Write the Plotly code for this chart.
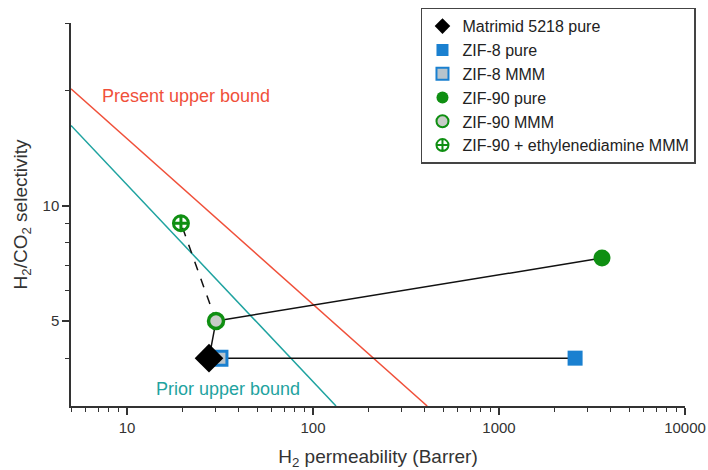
import math
import plotly.graph_objects as go

# ---- data ----
matrimid_x = [27.6];  matrimid_y = [4.0]
zif8_pure_x = [2565]; zif8_pure_y = [4.0]
zif8_mmm_x = [31.6];  zif8_mmm_y = [4.0]
zif90_pure_x = [3580]; zif90_pure_y = [7.3]
zif90_mmm_x = [30.1]; zif90_mmm_y = [5.0]
zif90_en_x = [19.5];  zif90_en_y = [9.0]

present_bound_x = [5, 411];  present_bound_y = [20.2, 3.0]
prior_bound_x = [5, 133];    prior_bound_y = [16.2, 3.0]

x_major = [10, 100, 1000, 10000]
x_minor = [m * d for d in (1, 10, 100, 1000) for m in range(2, 10) if 5 <= m * d < 10000]
y_major = [5, 10]
y_minor = [4, 6, 7, 8, 9, 20, 30]

FONT = "Liberation Sans, Arial, sans-serif"
RED = "#f0503a"
TEAL = "#1fa3a0"
BLUE = "#1a80d0"
GREEN = "#0f8f12"

fig = go.Figure()

# upper bounds
fig.add_trace(go.Scatter(x=present_bound_x, y=present_bound_y, mode="lines",
                         line=dict(color=RED, width=1.5), showlegend=False, hoverinfo="skip"))
fig.add_trace(go.Scatter(x=prior_bound_x, y=prior_bound_y, mode="lines",
                         line=dict(color=TEAL, width=1.5), showlegend=False, hoverinfo="skip"))

# connecting lines
def link(xa, ya, xb, yb, dash="solid"):
    fig.add_trace(go.Scatter(x=[xa[0], xb[0]], y=[ya[0], yb[0]], mode="lines",
                             line=dict(color="#111111", width=1.5, dash=dash),
                             showlegend=False, hoverinfo="skip"))

link(zif8_mmm_x, zif8_mmm_y, zif8_pure_x, zif8_pure_y)
link(zif90_mmm_x, zif90_mmm_y, zif90_pure_x, zif90_pure_y)
link(matrimid_x, matrimid_y, zif90_mmm_x, zif90_mmm_y)
link(zif90_mmm_x, zif90_mmm_y, zif90_en_x, zif90_en_y, dash="dash")

# markers (legend order)
fig.add_trace(go.Scatter(x=zif8_mmm_x, y=zif8_mmm_y, mode="markers", name="ZIF-8 MMM",
                         marker=dict(symbol="square", size=14, color="#b8c4cc",
                                     line=dict(color=BLUE, width=3)), legendrank=3))
fig.add_trace(go.Scatter(x=matrimid_x, y=matrimid_y, mode="markers", name="Matrimid 5218 pure",
                         marker=dict(symbol="diamond", size=22, color="black"), legendrank=1))
fig.add_trace(go.Scatter(x=zif8_pure_x, y=zif8_pure_y, mode="markers", name="ZIF-8 pure",
                         marker=dict(symbol="square", size=15, color=BLUE), legendrank=2))
fig.add_trace(go.Scatter(x=zif90_pure_x, y=zif90_pure_y, mode="markers", name="ZIF-90 pure",
                         marker=dict(symbol="circle", size=17, color=GREEN), legendrank=4))
fig.add_trace(go.Scatter(x=zif90_mmm_x, y=zif90_mmm_y, mode="markers", name="ZIF-90 MMM",
                         marker=dict(symbol="circle", size=15, color="#c8ccc8",
                                     line=dict(color=GREEN, width=3.5)), legendrank=5))
fig.add_trace(go.Scatter(x=zif90_en_x, y=zif90_en_y, mode="markers",
                         name="ZIF-90 + ethylenediamine MMM",
                         marker=dict(symbol="circle-cross-open", size=15, color=GREEN,
                                     line=dict(color=GREEN, width=3)), legendrank=6))

fig.add_annotation(x=math.log10(7.2), y=math.log10(19.3), text="Present upper bound",
                   showarrow=False, xanchor="left", yanchor="middle",
                   font=dict(family=FONT, size=18, color=RED))
fig.add_annotation(x=math.log10(14.0), y=math.log10(3.32), text="Prior upper bound",
                   showarrow=False, xanchor="left", yanchor="middle",
                   font=dict(family=FONT, size=18, color=TEAL))

axis_common = dict(showgrid=False, zeroline=False, showline=True, linecolor="#333333",
                   linewidth=1.5, ticks="outside", tickcolor="#333333", tickwidth=1.5,
                   ticklen=7, automargin=False,
                   tickfont=dict(family=FONT, size=15, color="#333333"))

fig.update_xaxes(type="log", range=[math.log10(5), 4], tickvals=x_major,
                 ticktext=[str(v) for v in x_major],
                 minor=dict(tickvals=x_minor, ticks="outside", ticklen=4,
                            tickcolor="#333333", tickwidth=1.2, showgrid=False),
                 title=dict(text="H<sub>2</sub> permeability (Barrer)",
                            font=dict(family=FONT, size=19, color="#333333"), standoff=15),
                 **axis_common)
fig.update_yaxes(type="log", range=[math.log10(3), math.log10(30)], tickvals=y_major,
                 ticktext=[str(v) for v in y_major],
                 minor=dict(tickvals=y_minor, ticks="outside", ticklen=4,
                            tickcolor="#333333", tickwidth=1.2, showgrid=False),
                 title=dict(text="H<sub>2</sub>/CO<sub>2</sub> selectivity",
                            font=dict(family=FONT, size=19, color="#333333"), standoff=10),
                 **axis_common)

fig.update_layout(
    width=708, height=470,
    margin=dict(l=71, r=23, t=23, b=64, autoexpand=False),
    plot_bgcolor="white", paper_bgcolor="white",
    font=dict(family=FONT, color="#333333"),
    legend=dict(x=0.57, y=1.04, xanchor="left", yanchor="top",
                bgcolor="white", bordercolor="#444444", borderwidth=1.5,
                font=dict(family=FONT, size=16, color="#222222"),
                itemsizing="constant", tracegroupgap=0),
)

fig.write_html("out.html", config={"displayModeBar": False},
               post_script="document.body.style.margin='0';document.body.style.overflow='hidden';")
